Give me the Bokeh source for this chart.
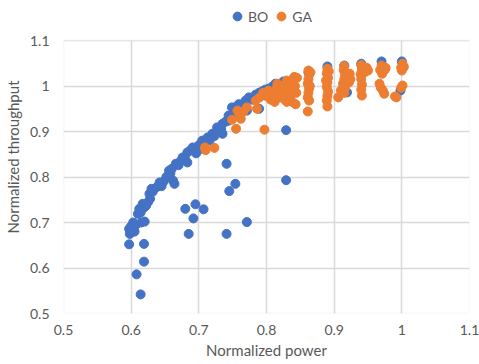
from bokeh.plotting import figure
from bokeh.models import FixedTicker, Range1d, Legend, LegendItem, BoxAnnotation
from bokeh.embed import file_html
from bokeh.resources import INLINE

series_names = ["BO", "GA"]

bo_x = [0.597, 0.598, 0.600, 0.603, 0.605, 0.607, 0.610, 0.612, 0.614, 0.615, 0.617, 0.619, 0.620, 0.622,
        0.625, 0.627, 0.628, 0.630, 0.632, 0.638, 0.642, 0.645, 0.648, 0.652, 0.656, 0.658, 0.660, 0.662,
        0.664, 0.666, 0.670, 0.673, 0.676, 0.680, 0.683, 0.683, 0.687, 0.691, 0.694, 0.696, 0.700, 0.703,
        0.705, 0.708, 0.713, 0.716, 0.720, 0.723, 0.727, 0.730, 0.733, 0.735, 0.735, 0.740, 0.744, 0.744,
        0.749, 0.752, 0.756, 0.759, 0.764, 0.769, 0.771, 0.774, 0.779, 0.784, 0.789, 0.789, 0.793, 0.798,
        0.803, 0.808, 0.813, 0.818, 0.825,
        0.890, 0.915, 0.940, 0.970, 1.000, 0.998, 0.919, 0.862,
        0.608, 0.614, 0.619, 0.619, 0.597, 0.680, 0.695, 0.692, 0.707, 0.685, 0.741, 0.771, 0.741, 0.745,
        0.754, 0.829, 0.829]
bo_y = [0.686, 0.675, 0.692, 0.700, 0.680, 0.695, 0.719, 0.730, 0.722, 0.700, 0.741, 0.733, 0.702, 0.737,
        0.745, 0.763, 0.752, 0.774, 0.768, 0.778, 0.788, 0.780, 0.790, 0.800, 0.814, 0.808, 0.818, 0.792,
        0.785, 0.829, 0.826, 0.835, 0.843, 0.838, 0.832, 0.854, 0.858, 0.865, 0.860, 0.852, 0.870, 0.862,
        0.880, 0.875, 0.887, 0.880, 0.895, 0.890, 0.909, 0.900, 0.905, 0.917, 0.895, 0.922, 0.935, 0.924,
        0.953, 0.940, 0.955, 0.960, 0.958, 0.968, 0.946, 0.975, 0.970, 0.981, 0.950, 0.985, 0.988, 0.992,
        0.994, 0.998, 1.005, 1.000, 1.010,
        1.043, 1.045, 1.049, 1.054, 1.054, 0.990, 0.986, 1.030,
        0.586, 0.542, 0.653, 0.614, 0.652, 0.730, 0.740, 0.709, 0.729, 0.675, 0.675, 0.701, 0.829, 0.769,
        0.785, 0.793, 0.903]

ga_x = [0.709, 0.710, 0.723, 0.755, 0.797, 0.861,
        0.749, 0.757, 0.762, 0.771, 0.786, 0.784, 0.760, 0.766,
        0.790, 0.795, 0.800, 0.803, 0.806, 0.810, 0.812, 0.815, 0.816, 0.820, 0.822, 0.825, 0.827, 0.828,
        0.830, 0.832, 0.835, 0.836, 0.838, 0.840, 0.841, 0.842, 0.843, 0.844, 0.845, 0.830,
        0.862, 0.863, 0.862, 0.861, 0.863, 0.862, 0.861, 0.863, 0.865, 0.864,
        0.890, 0.889, 0.891, 0.890, 0.889, 0.891, 0.890, 0.889, 0.890, 0.892, 0.888,
        0.915, 0.914, 0.916, 0.915, 0.913, 0.916, 0.915, 0.906, 0.923, 0.924, 0.922, 0.910,
        0.940, 0.941, 0.939, 0.940, 0.941, 0.940, 0.941, 0.950, 0.948, 0.945,
        0.967, 0.969, 0.972, 0.974, 0.970, 0.968, 0.971, 0.976, 0.975,
        0.990, 0.992,
        1.001, 1.003, 1.000, 0.999, 1.001, 0.999]
ga_y = [0.865, 0.859, 0.864, 0.906, 0.904, 0.944,
        0.926, 0.946, 0.928, 0.953, 0.950, 0.968, 0.938, 0.944,
        0.975, 0.985, 0.978, 0.990, 0.970, 0.985, 0.965, 0.995, 1.005, 0.975, 0.990, 1.000, 0.970, 0.985,
        1.012, 0.995, 0.978, 1.010, 0.965, 0.990, 1.020, 1.000, 0.960, 0.985, 1.018, 0.965,
        1.034, 1.025, 1.015, 1.005, 0.995, 0.985, 0.975, 0.968, 1.030, 1.000,
        1.038, 1.028, 1.018, 1.008, 0.998, 0.988, 0.978, 0.968, 0.955, 1.032, 1.012,
        1.044, 1.035, 1.025, 1.015, 1.005, 0.995, 0.985, 0.975, 1.027, 1.015, 1.008, 0.990,
        1.046, 1.036, 1.026, 1.015, 1.003, 0.992, 0.979, 1.034, 1.040, 1.030,
        1.005, 0.996, 0.990, 0.983, 1.045, 1.035, 1.027, 1.040, 1.036,
        0.977, 0.975,
        1.049, 1.042, 1.034, 1.040, 1.001, 0.996]

x_ticks = [0.5, 0.6, 0.7, 0.8, 0.9, 1.0, 1.1]
x_tick_labels = ["0.5", "0.6", "0.7", "0.8", "0.9", "1", "1.1"]
y_ticks = [0.5, 0.6, 0.7, 0.8, 0.9, 1.0, 1.1]
y_tick_labels = ["0.5", "0.6", "0.7", "0.8", "0.9", "1", "1.1"]

FONT = "Lato"
TXT = "#595959"
GRID = "#d9d9d9"

# plot area: 409 x 273 px for 0.6 units; 40 px of headroom above it for the legend
PX_PER_UNIT = 273 / 0.6
y_top = y_ticks[-1] + 40 / PX_PER_UNIT

p = figure(width=479, height=362, output_backend="svg", toolbar_location=None,
           x_range=Range1d(x_ticks[0], x_ticks[-1]), y_range=Range1d(y_ticks[0], y_top),
           min_border_left=60, min_border_right=10, min_border_top=0, min_border_bottom=49)
p.outline_line_color = None

# blank the headroom above the top gridline (vertical gridlines would otherwise run into it)
cover = BoxAnnotation(bottom=y_ticks[-1], fill_color="white", fill_alpha=1,
                      line_color=None, level="underlay")
p.add_layout(cover)
# border of the plot area at the outer ticks
border = BoxAnnotation(left=x_ticks[0], right=x_ticks[-1], bottom=y_ticks[0], top=y_ticks[-1],
                       fill_alpha=0, line_color=GRID, line_width=1.5, level="underlay")
p.add_layout(border)

r_bo = p.scatter(bo_x, bo_y, size=9, color="#4472C4", line_color="#4472C4")
r_ga = p.scatter(ga_x, ga_y, size=9, color="#ED7D31", line_color="#ED7D31")

p.xaxis.ticker = FixedTicker(ticks=x_ticks)
p.yaxis.ticker = FixedTicker(ticks=y_ticks)
p.yaxis.bounds = (y_ticks[0], y_ticks[-1])
p.xaxis.major_label_overrides = {t: l for t, l in zip(x_ticks, x_tick_labels)}
p.yaxis.major_label_overrides = {t: l for t, l in zip(y_ticks, y_tick_labels)}

for ax in (p.xaxis[0], p.yaxis[0]):
    ax.axis_line_color = None
    ax.major_tick_line_color = None
    ax.minor_tick_line_color = None
    ax.major_tick_in = 0
    ax.major_tick_out = 0
    ax.major_label_text_font = FONT
    ax.major_label_text_font_size = "14px"
    ax.major_label_text_color = TXT
    ax.axis_label_text_font = FONT
    ax.axis_label_text_font_size = "15px"
    ax.axis_label_text_color = TXT
    ax.axis_label_text_font_style = "normal"

p.xaxis.axis_label = "Normalized power"
p.yaxis.axis_label = "Normalized throughput"
p.xaxis.major_label_standoff = 11
p.yaxis.major_label_standoff = 14
p.xaxis.axis_label_standoff = 3
p.yaxis.axis_label_standoff = 5

p.xgrid.grid_line_color = GRID
p.ygrid.grid_line_color = GRID
p.xgrid.grid_line_width = 1.5
p.ygrid.grid_line_width = 1.5

legend = Legend(items=[LegendItem(label=series_names[0], renderers=[r_bo]),
                       LegendItem(label=series_names[1], renderers=[r_ga])],
                orientation="horizontal", location=(163, 286),
                label_text_font=FONT, label_text_font_size="14px", label_text_color=TXT,
                border_line_color=None, background_fill_alpha=0,
                glyph_width=22, glyph_height=22, label_standoff=0, spacing=2,
                padding=0, margin=0)
p.add_layout(legend, "center")

open("out.html", "w").write(file_html(p, INLINE))
